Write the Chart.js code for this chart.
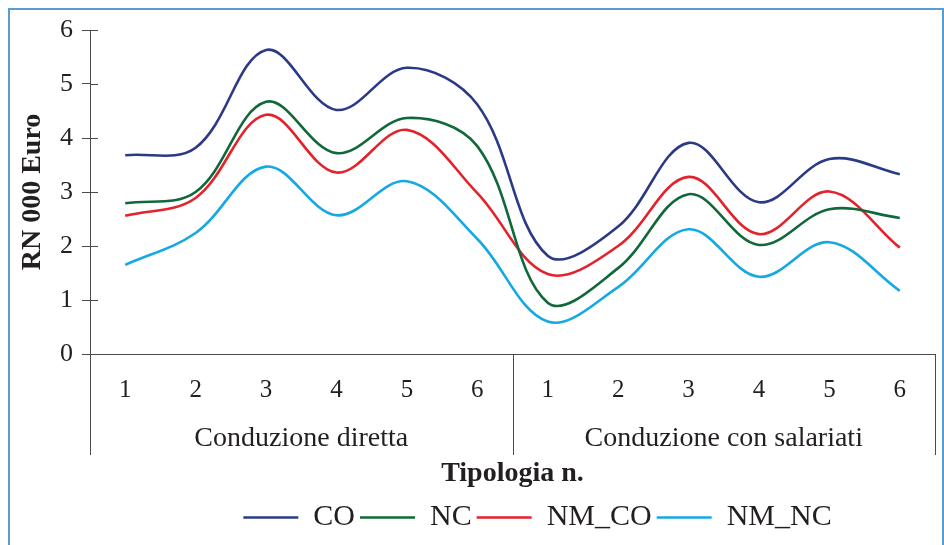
<!DOCTYPE html>
<html>
<head>
<meta charset="utf-8">
<script src="https://cdn.jsdelivr.net/npm/chart.js@4.4.0/dist/chart.umd.min.js"></script>
<style>
html,body{margin:0;padding:0;background:#fff;}
#wrap{position:relative;width:944px;height:545px;overflow:hidden;background:#fff;}
#frame{position:absolute;left:8px;top:8px;width:936px;height:560px;border:2px solid #5b9bd5;box-sizing:border-box;pointer-events:none;}
canvas{position:absolute;left:0;top:0;}
</style>
</head>
<body>
<div id="wrap"><canvas id="c" width="944" height="545"></canvas><div id="frame"></div></div>
<script>
// ---- data ----
const categories = ['1','2','3','4','5','6','1','2','3','4','5','6'];
const groups = ['Conduzione diretta','Conduzione con salariati'];
const groupSize = 6;
const seriesNames = ['CO','NC','NM_CO','NM_NC'];
const CO    = [3.68, 3.82, 5.63, 4.52, 5.30, 4.62, 1.82, 2.36, 3.91, 2.81, 3.61, 3.33];
const NC    = [2.79, 3.00, 4.67, 3.72, 4.37, 3.85, 0.95, 1.59, 2.96, 2.02, 2.68, 2.52];
const NM_CO = [2.56, 2.89, 4.43, 3.36, 4.15, 2.98, 1.48, 2.00, 3.28, 2.22, 3.01, 1.97];
const NM_NC = [1.65, 2.24, 3.47, 2.57, 3.20, 2.13, 0.60, 1.24, 2.31, 1.43, 2.07, 1.17];
const yMin = 0, yMax = 6, yStep = 1;
const yTitle = 'RN 000 Euro';
const xTitle = 'Tipologia n.';

// ---- styles ----
const colors = ['#2a3a85', '#12683a', '#e3222b', '#14a9e2'];
const textColor = '#231f20';
const axisColor = '#4a4a4a';
const fontFamily = '"Liberation Serif", "Times New Roman", serif';
Chart.defaults.font.family = fontFamily;
Chart.defaults.color = textColor;

const seriesData = [CO, NC, NM_CO, NM_NC];
const groupCenters = groups.map((g, i) => i * groupSize + (groupSize - 1) / 2);
const groupBounds = groups.map((g, i) => i * groupSize - 0.5).concat([groups.length * groupSize - 0.5]);

const dividerPlugin = {
  id: 'dividers',
  afterDraw(chart) {
    const {ctx, scales} = chart;
    const x = scales.x, x2 = scales.x2, y = scales.y;
    ctx.save();
    ctx.strokeStyle = axisColor;
    ctx.lineWidth = 1;
    ctx.beginPath();
    groupBounds.forEach(b => {
      const px = Math.round(x2.getPixelForValue(b)) + 0.5;
      ctx.moveTo(px, x.top);
      ctx.lineTo(px, x.top + 101);
    });
    y.ticks.forEach(t => {
      const py = Math.round(y.getPixelForValue(t.value)) + 0.5;
      ctx.moveTo(y.right, py);
      ctx.lineTo(y.right + 8, py);
    });
    ctx.stroke();
    ctx.restore();
  }
};

const legendShift = {
  id: 'legendShift',
  afterLayout(chart) {
    const l = chart.legend;
    if (l) { l.left += 25; l.right += 25; }
  }
};

new Chart(document.getElementById('c'), {
  type: 'line',
  data: {
    labels: categories,
    datasets: seriesNames.map((name, i) => ({
      label: name,
      data: seriesData[i],
      borderColor: colors[i],
      backgroundColor: colors[i],
      borderWidth: 2.6,
      pointRadius: 0,
      pointHoverRadius: 0,
      tension: 0.36,
      fill: false
    }))
  },
  options: {
    responsive: false,
    animation: false,
    devicePixelRatio: 1,
    layout: {padding: {top: 30, left: 0, right: 9, bottom: 2.5}},
    plugins: {
      legend: {
        position: 'bottom',
        fullSize: false,
        labels: {
          usePointStyle: true,
          pointStyle: 'line',
          pointStyleWidth: 55,
          padding: 5,
          font: {size: 30},
          color: textColor
        }
      },
      tooltip: {enabled: false}
    },
    scales: {
      x: {
        type: 'category',
        offset: true,
        afterFit: s => { s.height = 60; },
        grid: {display: false, drawTicks: false},
        border: {display: true, color: axisColor, width: 1},
        ticks: {padding: 21.5, font: {size: 25}, color: textColor, maxRotation: 0, autoSkip: false}
      },
      x2: {
        type: 'linear',
        position: 'bottom',
        min: -0.5,
        max: groups.length * groupSize - 0.5,
        afterBuildTicks: s => { s.ticks = groupCenters.map(v => ({value: v})); },
        afterFit: s => { s.height = 83.5; },
        grid: {display: false, drawTicks: false},
        border: {display: false},
        ticks: {padding: 8, font: {size: 28}, color: textColor, maxRotation: 0, autoSkip: false,
                callback: (v, i) => groups[i]},
        title: {display: true, text: xTitle, color: textColor,
                font: {size: 28, weight: 'bold'}, padding: {top: 0, bottom: 6.7}}
      },
      y: {
        min: yMin,
        max: yMax,
        afterFit: s => { s.width = 90; },
        ticks: {stepSize: yStep, padding: 9, font: {size: 26}, color: textColor},
        grid: {drawOnChartArea: false, drawTicks: true, tickLength: 8, color: axisColor, lineWidth: 1},
        border: {display: true, color: axisColor, width: 1},
        title: {display: true, text: yTitle, color: textColor,
                font: {size: 28, weight: 'bold'}, padding: {top: 16, bottom: 0}}
      }
    }
  },
  plugins: [dividerPlugin, legendShift]
});
</script>
</body>
</html>
